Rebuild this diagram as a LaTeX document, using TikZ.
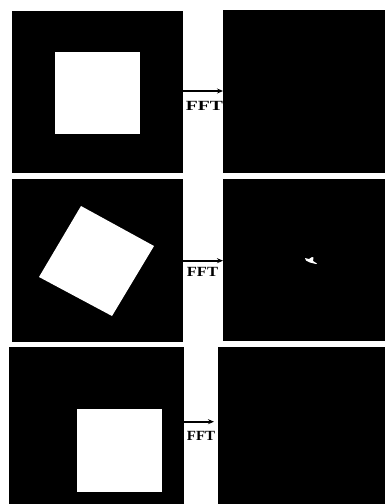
\documentclass[tikz,border=0pt]{standalone}
\usepackage{fontspec}
\setmainfont{Liberation Serif}
\usetikzlibrary{arrows.meta}
\newcommand\fftlab[1]{\scalebox{#1}[1]{FFT}}
\begin{document}
\begin{tikzpicture}[x=1pt,y=-1pt,
  panel/.style={fill=black,draw=none,inner sep=0pt,outer sep=0pt},
  sq/.style={fill=white,draw=none,inner sep=0pt,outer sep=0pt},
  fftarrow/.style={line width=1.7pt,-{Stealth[length=6pt,width=5pt]}},
  fftlabel/.style={inner sep=0pt,font=\fontsize{14}{14}\selectfont\bfseries}]
\useasboundingbox[fill=white] (0,0) rectangle (385,504);
% left panels
\node[panel,minimum width=171pt,minimum height=162pt] (L1) at (97.5,92) {};
\node[panel,minimum width=171pt,minimum height=163pt] (L2) at (97.5,260.5) {};
\node[panel,minimum width=175pt,minimum height=157pt] (L3) at (96.5,425.5) {};
% right panels
\node[panel,minimum width=162pt,minimum height=163pt] (R1) at (304,91.5) {};
\node[panel,minimum width=162pt,minimum height=162pt] (R2) at (304,260) {};
\node[panel,minimum width=167pt,minimum height=157pt] (R3) at (301.5,425.5) {};
% white squares
\node[sq,minimum width=85pt,minimum height=82pt] (S1) at (97.5,92.5) {};
\node[sq,minimum width=85pt,minimum height=83pt] (S3) at (119.5,450.5) {};
\fill[white] (81,206) -- (154,246) -- (112,316) -- (39,277) -- cycle;
% spot in the middle spectrum
\fill[white] (305,258) -- (309,259) -- (312,257) -- (313.5,257.5) -- (313,261) -- (317,263.5) -- (316,264) -- (310,262.5) -- (306,260.5) -- cycle;
% arrows
\coordinate (y1) at (0,91);
\coordinate (y2) at (0,260.7);
\coordinate (y3) at (0,421.7);
\coordinate (e3) at (214,421.7);
\draw[fftarrow] (L1.east |- y1) -- (R1.west |- y1);
\draw[fftarrow] (L2.east |- y2) -- (R2.west |- y2);
\draw[fftarrow] (L3.east |- y3) -- (e3);
% labels
\node[fftlabel] (F1) at (204.5,105.5) {\fftlab{1.4}};
\node[fftlabel] (F2) at (202.5,271.5) {\fftlab{1.18}};
\node[fftlabel] (F3) at (201,435.5) {\fftlab{1.07}};
\end{tikzpicture}
\end{document}
